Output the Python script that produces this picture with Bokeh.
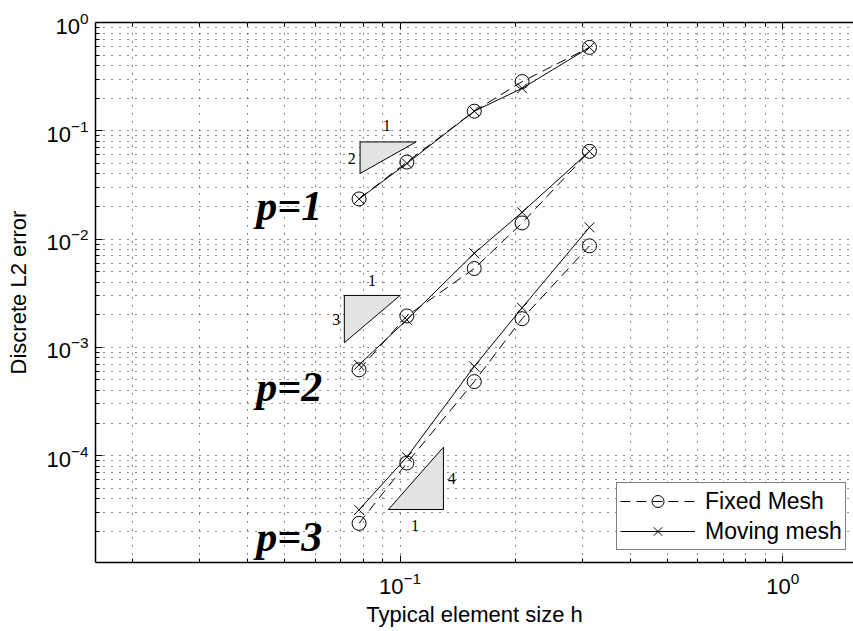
from bokeh.plotting import figure
from bokeh.models import (LogAxis, FixedTicker, Legend, LegendItem, Range1d,
                          ColumnDataSource)
from bokeh.core.properties import value
from bokeh.embed import file_html
from bokeh.resources import INLINE

# typical element size h for the five meshes
h = [5/64, 5/48, 5/32, 5/24, 5/16]

# discrete L2 error, fixed mesh
fixed_p1 = [0.0235, 0.0515, 0.152, 0.285, 0.59]
fixed_p2 = [6.2e-4, 1.95e-3, 5.35e-3, 0.0141, 0.0647]
fixed_p3 = [2.37e-5, 8.55e-5, 4.83e-4, 1.84e-3, 8.67e-3]

# discrete L2 error, moving mesh
moving_p1 = [0.0235, 0.050, 0.152, 0.247, 0.59]
moving_p2 = [6.9e-4, 1.80e-3, 7.4e-3, 0.0177, 0.0647]
moving_p3 = [3.16e-5, 9.7e-5, 6.67e-4, 2.32e-3, 0.01285]

# polynomial-degree labels
degree_text = ["p=1", "p=2", "p=3"]
degree_x = [0.0421, 0.0421, 0.0421]
degree_y = [0.0202, 4.35e-4, 1.76e-5]

# convergence-rate triangles: corner x0, x1, horizontal-edge y, slope
tri_x0 = [0.0786, 0.0715, 0.0932]
tri_x1 = [0.110, 0.100, 0.1298]
tri_y = [0.079, 3.02e-3, 3.18e-5]
tri_slope = [2, 3, 4]
tri_up = [False, False, True]   # True: vertical edge on the right, rising

# labels on the triangle legs
rate_text = ["1", "2", "1", "3", "4", "1"]
rate_x = [0.0923, 0.0748, 0.0844, 0.0681, 0.1364, 0.1094]
rate_y = [0.1127, 0.0553, 4.16e-3, 1.81e-3, 6.12e-5, 2.24e-5]

p = figure(width=853, height=631, x_axis_type="log", y_axis_type="log",
           x_range=Range1d(0.016, 1.53), y_range=Range1d(1.03e-5, 1.002),
           output_backend="svg", toolbar_location=None,
           min_border_left=95, min_border_right=0, min_border_top=22,
           min_border_bottom=69, background_fill_color="white",
           border_fill_color="white")
p.outline_line_color = None

xt = FixedTicker(ticks=[0.1, 1.0],
                 minor_ticks=[k * 10.0**e for e in (-2, -1, 0) for k in range(2, 10)])
yt = FixedTicker(ticks=[1e-4, 1e-3, 1e-2, 1e-1, 1.0],
                 minor_ticks=[k * 10.0**e for e in range(-5, 0) for k in range(2, 10)])
p.xaxis.ticker = xt
p.yaxis.ticker = yt
p.xgrid.ticker = xt
p.ygrid.ticker = yt

for g in (p.xgrid, p.ygrid):
    g.grid_line_color = "black"
    g.grid_line_dash = "1 7"
    g.grid_line_alpha = 0.9
    g.minor_grid_line_color = "black"
    g.minor_grid_line_dash = "1 7"
    g.minor_grid_line_alpha = 0.9

for ax in (p.xaxis[0], p.yaxis[0]):
    ax.axis_line_color = "black"
    ax.axis_line_width = 1.5
    ax.major_tick_in = 7
    ax.major_tick_out = 0
    ax.minor_tick_in = 4
    ax.minor_tick_out = 0
    ax.major_tick_line_color = "black"
    ax.minor_tick_line_color = "black"
    ax.major_label_text_font = "Liberation Sans"
    ax.major_label_text_font_size = "22px"
    ax.major_label_text_color = "black"
    ax.axis_label_text_font = "Liberation Sans"
    ax.axis_label_text_font_size = "22px"
    ax.axis_label_text_font_style = "normal"
    ax.axis_label_text_color = "black"

p.xaxis.axis_label = "Typical element size h"
p.yaxis.axis_label = "Discrete L2 error"
p.xaxis.major_label_standoff = 9
p.xaxis.axis_label_standoff = 5
p.yaxis.major_label_standoff = 7
p.yaxis.axis_label_standoff = 12

top = LogAxis(ticker=xt, major_tick_in=7, major_tick_out=0, minor_tick_in=4,
              minor_tick_out=0, axis_line_color="black", axis_line_width=1.5,
              major_label_text_color=None, major_label_text_font_size="1px",
              major_label_standoff=0)
p.add_layout(top, "above")

# slope triangles
tri_xs, tri_ys = [], []
for x0, x1, y0, s, up in zip(tri_x0, tri_x1, tri_y, tri_slope, tri_up):
    if up:
        y1 = y0 * (x1 / x0) ** s
        tri_xs.append([x0, x1, x1])
        tri_ys.append([y0, y0, y1])
    else:
        y1 = y0 * (x0 / x1) ** s
        tri_xs.append([x0, x1, x0])
        tri_ys.append([y0, y0, y1])
p.patches(tri_xs, tri_ys, fill_color="#e3e3e3", line_color="black", line_width=1)
p.text(x=rate_x, y=rate_y, text=rate_text, text_font=value("Liberation Serif"),
       text_font_size="16px", text_align="center", text_baseline="middle",
       text_color="black")

dash = "10 6"
legend_fixed, legend_moving = [], []
for fy, my in ((fixed_p1, moving_p1), (fixed_p2, moving_p2), (fixed_p3, moving_p3)):
    src = ColumnDataSource(dict(h=h, fixed=fy, moving=my))
    lf = p.line("h", "fixed", source=src, line_color="black", line_width=1,
                line_dash=dash)
    sf = p.scatter("h", "fixed", source=src, marker="circle", size=14,
                   fill_color=None, line_color="black", line_width=1)
    lm = p.line("h", "moving", source=src, line_color="black", line_width=1)
    sm = p.scatter("h", "moving", source=src, marker="x", size=14,
                   line_color="black", line_width=1)
    if not legend_fixed:
        legend_fixed = [lf, sf]
        legend_moving = [lm, sm]

p.text(x=degree_x, y=degree_y, text=degree_text, text_font=value("Liberation Serif"),
       text_font_style="bold italic", text_font_size="42px", text_align="left",
       text_baseline="alphabetic", text_color="black")

legend = Legend(items=[LegendItem(label="Fixed Mesh", renderers=legend_fixed),
                       LegendItem(label="Moving mesh", renderers=legend_moving)],
                location=(521, 12), border_line_color="black", border_line_width=1.5,
                label_text_font="Liberation Sans", label_text_font_size="23px",
                label_text_color="black", glyph_width=75, glyph_height=30,
                label_standoff=10, padding=3, spacing=0, margin=0,
                background_fill_color="white", background_fill_alpha=1.0)
p.add_layout(legend, "center")

open("out.html", "w").write(file_html(p, INLINE))
